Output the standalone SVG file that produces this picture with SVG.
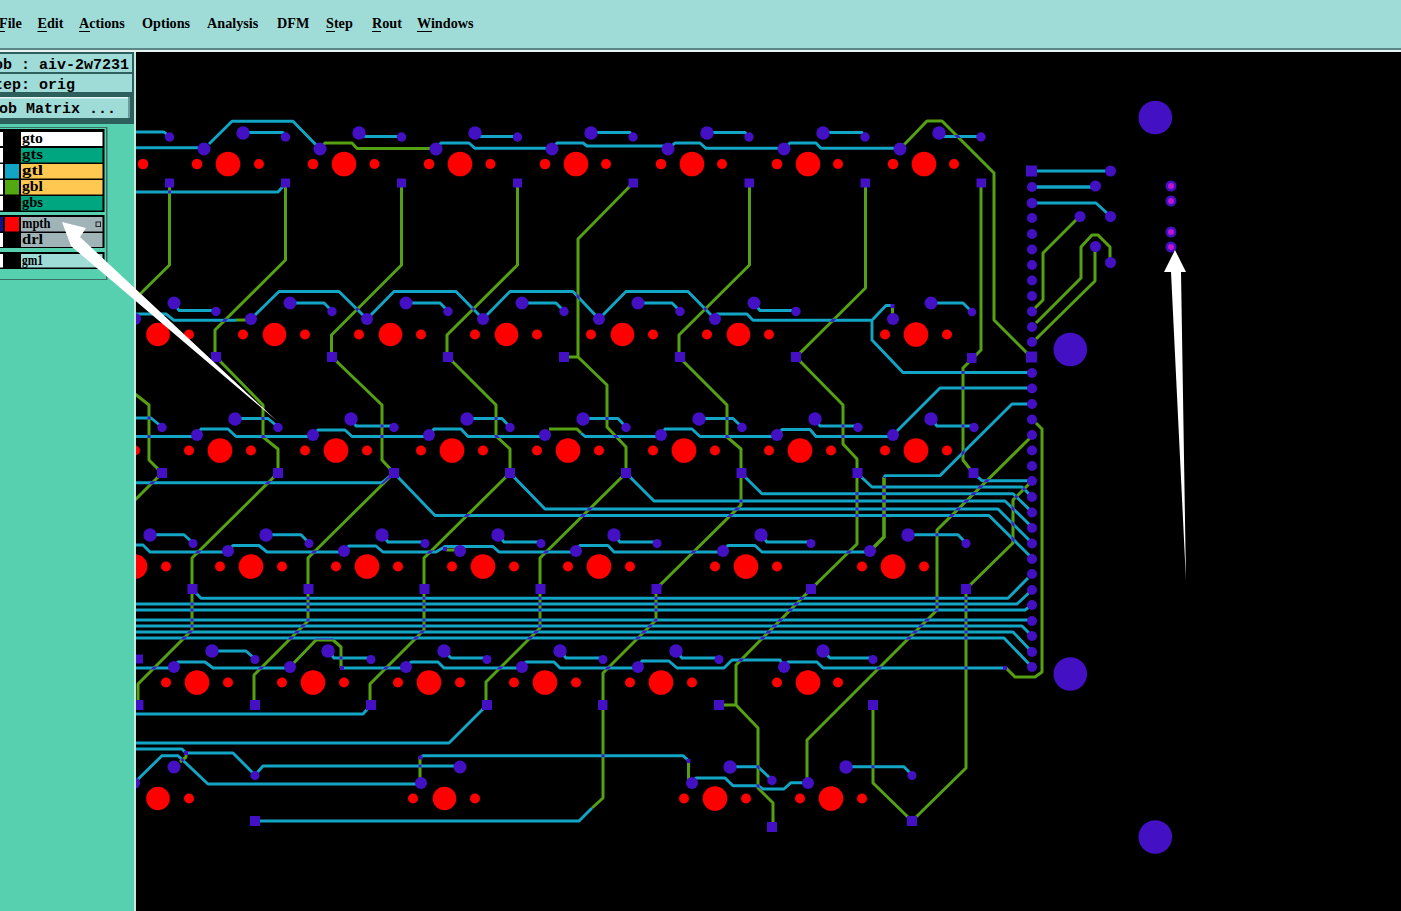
<svg xmlns="http://www.w3.org/2000/svg" width="1401" height="911" viewBox="0 0 1401 911">
<style>
.p{fill:#4410c4}
.r{fill:#ff0000}
.m{font-family:"Liberation Serif",serif;font-weight:bold;font-size:14.200px;fill:#000}
.c{font-family:"Liberation Mono",monospace;font-weight:bold;font-size:15px;fill:#000}
.l{font-family:"Liberation Serif",serif;font-weight:bold;font-size:14px;fill:#000}
.u{stroke:#000;stroke-width:1.2}
</style>
<defs>
<g id="blue" fill="none" stroke-width="2.900">
<path d="M130 132H164L170 137M130 147.700H204M209 144L232 121.300H293L320 149M243 132.500H283L286 137M130 192H278L286 183"/>
<path d="M436 149L441 143H469L475 148.300H552M552 149L557 143H583L587 146H668M668 149L675 143H700L706 148.300H784M784 149L790 143H816L821 148.300H900"/>
<path d="M359 135L366 136.500H401M475 135L481 136.500H517M591 132.500H630L633 137M707 132.500H745L749 137M823 132.500H862L865 137M939 136.500H981"/>
<path d="M1031 171H1110" stroke-width="3.200"/><path d="M1032 187H1095" stroke-width="3.600"/><path d="M1032 203H1096L1108 214"/>
<path d="M130 314H166L174 320.300H236"/>
<path d="M251 319L279 291.500H339L367 319M367 319L394 291.500H456L483 319M483 319L510 291.500H573L599 319M599 319L626 291.500H688L715 319"/>
<path d="M715 319L717 314H747L753 320.300H872L886 305.500H892M872 320V340L903 372.500H1032"/>
<path d="M174 303L179 310.500H216M290 303H324L332 311M406 303H440L448 311M522 303H556L564 311M638 303H672L680 311M754 303L760 310.500H796M931 303H963L972 312"/>
<path d="M130 418H151L162 427M130 436.500H197M197 435L201 429H228L236 436.500H313M313 435L318 430H345L352 436.500H429M429 435L434 429H461L468 436.500H545"/>
<path d="M235 418.500H268L278 427M351 419L356 426H394M467 418.500H502L510 427M583 418.500H618L626 427M699 418.500H733L742 427M815 419L820 426H858M931 419L937 426H974"/>
<path d="M581 433L585 436.500H661M661 435L665 429H692L700 436.500H777M777 435L782 429.500H810L816 436.500H893M893 435L940 388H1032"/>
<path d="M1032 404H1012L940 475.600H885L884 478"/>
<path d="M857 473L872 487H1022L1032 497M741 473L762 493.700H1013L1032 512M626 473L654 501H1005L1032 527M510 473L545 509H998L1032 543M394 473L435 515.500H989L1032 558M973 473L982 480.700H1032"/>
<path d="M130 482.700H382L394 473"/>
<path d="M192 589L201 598.300H1008L1028 578M130 604H1017L1032 590M130 610H1025L1032 605M130 620H1032M130 626H1022L1032 636M130 632H1013L1032 652M130 638H1004L1032 667"/>
<path d="M130 545H143L150 552H228M228 551L233 545.500H259L267 552H344M344 551L349 546H376L383 552H436L445 546.500H493L499 552H576M576 551L580 545.500H608L614 552H723M723 551L728 545.500H755L762 552H870"/>
<path d="M150 534.700H184L193 543M266 534.700H301L309 543M382 535L388 542H425M498 535L504 542H541M614 535L620 542H657M761 535L767 542H811M908 534.700H958L966 543"/>
<path d="M130 668H174M174 667L178 662H205L213 668H290M343 668H406M406 667L411 662H438L444 668H522M522 667L526 662H554L560 668H638M638 667L642 661H669L677 668H724L732 660H780L784 667M784 667L788 662H817L823 668H1005"/>
<path d="M212 651H246L255 659M328 651L334 658H371M444 651L451 658H487M560 651L566 658H603M676 651L682 658H719M823 651L830 658H873"/>
<path d="M130 714H363L371 705M130 743H449L487 705"/>
<path d="M130 749H182L186 753H233L255 775M255 775L263 766H460"/>
<path d="M130 787L162 755.700H178L208 784H421"/>
<path d="M420 758L423 755.700H683L689 761"/>
<path d="M692 783L696 778H725L733 785.700H758L763 789H784L791 782.700H808"/>
<path d="M730 766.700H758L772 780M846 766.700H904L912 775"/>
<path d="M255 821H579L592 808"/>
</g>
<g id="green" fill="none" stroke-width="3">
<path d="M169.500 183V265L130 304"/>
<path d="M285.500 183V260L215 330V357"/>
<path d="M320 149L325 143H352L357 148.500H436"/>
<path d="M401.500 183V265L331.500 335V357"/>
<path d="M517.500 183V265L447 335V357"/>
<path d="M633 183L578 239V357L607 385V427L626 447V473M564 357H578"/>
<path d="M749.500 183V265L679 335V357L727 405V437L741 449V505L656 589"/>
<path d="M865.500 183V288L796 357L843 405V444L857 459V544L811 589"/>
<path d="M900 149L927 121H942L994 173V320L1031 357"/>
<path d="M981 183V350L963 368V460L973 473"/>
<path d="M892.500 306V319"/>
<path d="M236 320H251"/>
<path d="M216 357L263 405V437L278 449V473L192 558V630L138 684V705"/>
<path d="M332 357L382 405V460L394 473L308 558V621L254 675V705"/>
<path d="M448 357L496 405V436L510 449V473L424 558V630L370 684V705"/>
<path d="M626 473L540 558V628L486 682V705"/>
<path d="M130 390L149 405V460L162 473L130 505"/>
<path d="M656 589V620L603 673V798L592 808"/>
<path d="M811 589L736 665V705M719 705H736L758 728V788L773 803V827"/>
<path d="M966 589L1013 543V500L1029 484"/>
<path d="M1030 438L937 530V610L807 740V783"/>
<path d="M966 589V768L912 821L873 783V705"/>
<path d="M884 477V537L870 551" stroke-width="3.600"/>
<path d="M1036 423L1042 429V672L1035 677H1015L1006 668"/>
<path d="M1080 216L1043 253V300L1032 311M1036 323L1081 278V247L1092 235H1098L1110 247V262M1036 339L1095 281V247"/>
<path d="M549 429H577L581 433M446 550H460"/>
<path d="M290 667L316 640H333L341 647V668"/>
<path d="M420 757V783M688.500 761V783M186 753V757L180 762"/>
</g>
<mask id="x" maskUnits="userSpaceOnUse" x="0" y="0" width="1401" height="911"><use href="#blue" stroke="#fff"/></mask>
<clipPath id="cl"><rect x="0" y="52" width="132" height="70"/></clipPath>
</defs>
<rect id="board" x="134" y="50" width="1267" height="861" fill="#000"/>
<g id="connectors" stroke-linejoin="round">
<use href="#green" stroke="#55a013"/>
<use href="#blue" stroke="#12a5c6"/>
<g mask="url(#x)"><use href="#green" stroke="#3f1fb4"/></g>
</g>
<g id="drills" class="r">
<circle cx="143" cy="164" r="5.300"/><circle cx="197" cy="164" r="5.300"/><circle cx="228" cy="164" r="12.300"/><circle cx="259" cy="164" r="5"/><circle cx="313" cy="164" r="5.300"/><circle cx="344" cy="164" r="12.300"/><circle cx="374.500" cy="164" r="5"/><circle cx="429" cy="164" r="5.300"/><circle cx="460" cy="164" r="12.300"/><circle cx="490.500" cy="164" r="5"/><circle cx="545" cy="164" r="5.300"/><circle cx="576" cy="164" r="12.300"/><circle cx="606" cy="164" r="5"/><circle cx="661" cy="164" r="5.300"/><circle cx="692" cy="164" r="12.300"/><circle cx="722" cy="164" r="5"/><circle cx="777" cy="164" r="5.300"/><circle cx="808" cy="164" r="12.300"/><circle cx="838" cy="164" r="5"/><circle cx="893" cy="164" r="5.300"/><circle cx="924" cy="164" r="12.300"/><circle cx="954" cy="164" r="5"/>
<circle cx="158" cy="334.500" r="11.800"/><circle cx="189" cy="334.500" r="5"/><circle cx="243" cy="334.500" r="5"/><circle cx="274.500" cy="334.500" r="11.800"/><circle cx="305" cy="334.500" r="5"/><circle cx="359" cy="334.500" r="5"/><circle cx="390.500" cy="334.500" r="11.800"/><circle cx="421" cy="334.500" r="5"/><circle cx="475" cy="334.500" r="5"/><circle cx="506.500" cy="334.500" r="11.800"/><circle cx="537" cy="334.500" r="5"/><circle cx="591" cy="334.500" r="5"/><circle cx="622.500" cy="334.500" r="11.800"/><circle cx="653" cy="334.500" r="5"/><circle cx="707" cy="334.500" r="5"/><circle cx="738.500" cy="334.500" r="11.800"/><circle cx="769" cy="334.500" r="5"/><circle cx="885" cy="334.500" r="5"/><circle cx="916" cy="334.500" r="12.300"/><circle cx="947" cy="334.500" r="5"/>
<circle cx="135" cy="450.500" r="5"/><circle cx="189" cy="450.500" r="5"/><circle cx="220" cy="450.500" r="12.300"/><circle cx="251" cy="450.500" r="5"/><circle cx="305" cy="450.500" r="5"/><circle cx="336" cy="450.500" r="12.300"/><circle cx="367" cy="450.500" r="5"/><circle cx="421" cy="450.500" r="5"/><circle cx="452" cy="450.500" r="12.300"/><circle cx="483" cy="450.500" r="5"/><circle cx="537" cy="450.500" r="5"/><circle cx="568" cy="450.500" r="12.300"/><circle cx="599" cy="450.500" r="5"/><circle cx="653" cy="450.500" r="5"/><circle cx="684" cy="450.500" r="12.300"/><circle cx="715" cy="450.500" r="5"/><circle cx="769" cy="450.500" r="5"/><circle cx="800" cy="450.500" r="12.300"/><circle cx="831" cy="450.500" r="5"/><circle cx="885" cy="450.500" r="5"/><circle cx="916" cy="450.500" r="12.300"/><circle cx="947" cy="450.500" r="5"/>
<circle cx="135" cy="566.500" r="12.300"/><circle cx="166" cy="566.500" r="5"/><circle cx="220" cy="566.500" r="5"/><circle cx="251" cy="566.500" r="12.300"/><circle cx="282" cy="566.500" r="5"/><circle cx="336" cy="566.500" r="5"/><circle cx="367" cy="566.500" r="12.300"/><circle cx="398" cy="566.500" r="5"/><circle cx="452" cy="566.500" r="5"/><circle cx="483" cy="566.500" r="12.300"/><circle cx="514" cy="566.500" r="5"/><circle cx="568" cy="566.500" r="5"/><circle cx="599" cy="566.500" r="12.300"/><circle cx="630" cy="566.500" r="5"/><circle cx="715" cy="566.500" r="5"/><circle cx="746" cy="566.500" r="12.300"/><circle cx="777" cy="566.500" r="5"/><circle cx="862" cy="566.500" r="5"/><circle cx="893" cy="566.500" r="12.300"/><circle cx="924" cy="566.500" r="5"/>
<circle cx="166" cy="682.500" r="5"/><circle cx="197" cy="682.500" r="12.300"/><circle cx="228" cy="682.500" r="5"/><circle cx="282" cy="682.500" r="5"/><circle cx="313" cy="682.500" r="12.300"/><circle cx="344" cy="682.500" r="5"/><circle cx="398" cy="682.500" r="5"/><circle cx="429" cy="682.500" r="12.300"/><circle cx="460" cy="682.500" r="5"/><circle cx="514" cy="682.500" r="5"/><circle cx="545" cy="682.500" r="12.300"/><circle cx="576" cy="682.500" r="5"/><circle cx="630" cy="682.500" r="5"/><circle cx="661" cy="682.500" r="12.300"/><circle cx="692" cy="682.500" r="5"/><circle cx="777" cy="682.500" r="5"/><circle cx="808" cy="682.500" r="12.300"/><circle cx="838" cy="682.500" r="5"/>
<circle cx="158" cy="798.500" r="11.800"/><circle cx="189" cy="798.500" r="5"/><circle cx="413" cy="798.500" r="5"/><circle cx="444.500" cy="798.500" r="11.800"/><circle cx="475" cy="798.500" r="5"/><circle cx="684" cy="798.500" r="5"/><circle cx="715" cy="798.500" r="12.300"/><circle cx="746" cy="798.500" r="5"/><circle cx="800" cy="798.500" r="5"/><circle cx="831" cy="798.500" r="12.300"/><circle cx="862" cy="798.500" r="5"/>
</g>
<g id="pads-row1" class="p">
<circle cx="204" cy="149" r="6.500"/><circle cx="320" cy="149" r="6.500"/><circle cx="436" cy="149" r="6.500"/><circle cx="552" cy="149" r="6.500"/><circle cx="668" cy="149" r="6.500"/><circle cx="784" cy="149" r="6.500"/><circle cx="900" cy="149" r="6.500"/>
<circle cx="243" cy="133" r="6.700"/><circle cx="359" cy="133" r="6.700"/><circle cx="475" cy="133" r="6.700"/><circle cx="591" cy="133" r="6.700"/><circle cx="707" cy="133" r="6.700"/><circle cx="823" cy="133" r="6.700"/><circle cx="939" cy="133" r="6.700"/>
<circle cx="169.500" cy="137" r="4.700"/><circle cx="285.500" cy="137" r="4.700"/><circle cx="401.500" cy="137" r="4.700"/><circle cx="517.500" cy="137" r="4.700"/><circle cx="633" cy="137" r="4.700"/><circle cx="749" cy="137" r="4.700"/><circle cx="865" cy="137" r="4.700"/><circle cx="981" cy="137" r="4.700"/>
<rect x="165" y="178.500" width="9" height="9"/><rect x="281" y="178.500" width="9" height="9"/><rect x="397" y="178.500" width="9" height="9"/><rect x="513" y="178.500" width="9" height="9"/><rect x="628.500" y="178.500" width="9.500" height="9"/><rect x="744.500" y="178.500" width="9.500" height="9"/><rect x="860.500" y="178.500" width="9.500" height="9"/><rect x="976.500" y="178.500" width="9.500" height="9"/>
</g>
<g id="pads-row2" class="p">
<circle cx="135" cy="319" r="6"/><circle cx="251" cy="319" r="6"/><circle cx="367" cy="319" r="6"/><circle cx="483" cy="319" r="6"/><circle cx="599" cy="319" r="6"/><circle cx="715" cy="319" r="6"/><circle cx="893" cy="319" r="6"/>
<circle cx="174" cy="303" r="6.500"/><circle cx="290" cy="303" r="6.500"/><circle cx="406" cy="303" r="6.500"/><circle cx="522" cy="303" r="6.500"/><circle cx="638" cy="303" r="6.500"/><circle cx="754" cy="303" r="6.500"/><circle cx="931" cy="303" r="6.500"/>
<circle cx="216" cy="311.500" r="4.700"/><circle cx="332" cy="311.500" r="4.700"/><circle cx="448" cy="311.500" r="4.700"/><circle cx="564" cy="311.500" r="4.700"/><circle cx="680" cy="311.500" r="4.700"/><circle cx="796" cy="311.500" r="4.700"/><circle cx="972" cy="312" r="4.300"/>
<rect x="211" y="352" width="10" height="10"/><rect x="327" y="352" width="10" height="10"/><rect x="443" y="352" width="10" height="10"/><rect x="559" y="352" width="10" height="10"/><rect x="675" y="352" width="10" height="10"/><rect x="791" y="352" width="10" height="10"/><rect x="967" y="353" width="9.500" height="10"/>
<rect x="890.500" y="304" width="4" height="4"/>
</g>
<g id="pads-row3" class="p">
<circle cx="197" cy="435" r="6"/><circle cx="313" cy="435" r="6"/><circle cx="429" cy="435" r="6"/><circle cx="545" cy="435" r="6"/><circle cx="661" cy="435" r="6"/><circle cx="777" cy="435" r="6"/><circle cx="893" cy="435" r="6"/>
<circle cx="235" cy="419" r="6.700"/><circle cx="351" cy="419" r="6.700"/><circle cx="467" cy="419" r="6.700"/><circle cx="583" cy="419" r="6.700"/><circle cx="699" cy="419" r="6.700"/><circle cx="815" cy="419" r="6.700"/><circle cx="931" cy="419" r="6.700"/>
<circle cx="162" cy="427.500" r="4.700"/><circle cx="278" cy="427.500" r="4.700"/><circle cx="394" cy="427.500" r="4.700"/><circle cx="510" cy="427.500" r="4.700"/><circle cx="626" cy="427.500" r="4.700"/><circle cx="742" cy="427.500" r="4.700"/><circle cx="858" cy="427.500" r="4.700"/><circle cx="974" cy="427.500" r="4.700"/>
<rect x="157" y="468" width="10" height="10"/><rect x="273" y="468" width="10" height="10"/><rect x="389" y="468" width="10" height="10"/><rect x="505" y="468" width="10" height="10"/><rect x="621" y="468" width="10" height="10"/><rect x="736.500" y="468" width="10" height="10"/><rect x="852.500" y="468" width="10" height="10"/><rect x="968.500" y="468" width="10" height="10"/>
</g>
<g id="pads-row4" class="p">
<circle cx="228" cy="551" r="6"/><circle cx="344" cy="551" r="6"/><circle cx="460" cy="551" r="6"/><circle cx="576" cy="551" r="6"/><circle cx="723" cy="551" r="6"/><circle cx="870" cy="551" r="6"/>
<circle cx="150" cy="535" r="6.700"/><circle cx="266" cy="535" r="6.700"/><circle cx="382" cy="535" r="6.700"/><circle cx="498" cy="535" r="6.700"/><circle cx="614" cy="535" r="6.700"/><circle cx="761" cy="535" r="6.700"/><circle cx="908" cy="535" r="6.700"/>
<circle cx="193" cy="543.500" r="4.500"/><circle cx="309" cy="543.500" r="4.500"/><circle cx="425" cy="543.500" r="4.500"/><circle cx="541" cy="543.500" r="4.500"/><circle cx="657" cy="543.500" r="4.500"/><circle cx="811" cy="543.500" r="4.500"/><circle cx="966" cy="543.500" r="4.500"/>
<rect x="187.500" y="584" width="10" height="10"/><rect x="303.500" y="584" width="10" height="10"/><rect x="419.500" y="584" width="10" height="10"/><rect x="535.500" y="584" width="10" height="10"/><rect x="651.500" y="584" width="10" height="10"/><rect x="806" y="584" width="10" height="10"/><rect x="961" y="584" width="10" height="10"/>
<rect x="443" y="547" width="4" height="4"/>
</g>
<g id="pads-row5" class="p">
<circle cx="174" cy="667" r="6"/><circle cx="290" cy="667" r="6"/><circle cx="406" cy="667" r="6"/><circle cx="522" cy="667" r="6"/><circle cx="638" cy="667" r="6"/><circle cx="784" cy="667" r="6"/>
<circle cx="212" cy="651" r="6.700"/><circle cx="328" cy="651" r="6.700"/><circle cx="444" cy="651" r="6.700"/><circle cx="560" cy="651" r="6.700"/><circle cx="676" cy="651" r="6.700"/><circle cx="823" cy="651" r="6.700"/>
<circle cx="255" cy="659.500" r="4.500"/><circle cx="371" cy="659.500" r="4.500"/><circle cx="487" cy="659.500" r="4.500"/><circle cx="603" cy="659.500" r="4.500"/><circle cx="719" cy="659.500" r="4.500"/><circle cx="873" cy="659.500" r="4.500"/>
<rect x="134" y="654.500" width="9" height="9"/><rect x="134" y="700" width="9.500" height="10"/><rect x="250" y="700" width="10" height="10"/><rect x="366" y="700" width="10" height="10"/><rect x="482" y="700" width="10" height="10"/><rect x="598" y="700" width="9.500" height="10"/><rect x="714" y="700" width="10" height="10"/><rect x="868" y="700" width="10" height="10"/>
<rect x="340" y="666" width="4" height="4"/><rect x="1003" y="666" width="4" height="4"/>
</g>
<g id="pads-row6" class="p">
<circle cx="134" cy="783" r="6"/><circle cx="421" cy="783" r="6"/><circle cx="692" cy="783" r="6"/><circle cx="808" cy="783" r="6"/>
<circle cx="174" cy="767" r="6.500"/><circle cx="460" cy="767" r="6.500"/><circle cx="730" cy="767" r="6.700"/><circle cx="846" cy="767" r="6.700"/>
<circle cx="255" cy="775.500" r="4.500"/><circle cx="772" cy="780.500" r="4.700"/><circle cx="912" cy="775.500" r="4.500"/>
<rect x="250" y="816" width="10" height="10"/><rect x="767" y="822" width="10" height="10"/><rect x="907" y="816" width="10" height="10"/>
<rect x="418.500" y="755.500" width="4" height="4"/><rect x="686.500" y="759" width="4" height="4"/><rect x="184" y="751" width="4" height="4"/>
</g>
<g id="edge-connector" class="p">
<rect x="1026" y="165.500" width="11" height="11"/><circle cx="1032" cy="187" r="5"/><circle cx="1032" cy="203" r="5.300"/><circle cx="1032" cy="218" r="5"/><circle cx="1032" cy="234" r="5"/><circle cx="1032" cy="249.500" r="5"/><circle cx="1032" cy="265" r="5"/><circle cx="1032" cy="280.500" r="5"/><circle cx="1032" cy="296" r="5"/><circle cx="1032" cy="311.500" r="5"/><circle cx="1032" cy="327" r="5"/><circle cx="1032" cy="342" r="5"/><rect x="1026" y="351.500" width="11" height="11"/><circle cx="1032" cy="373" r="5"/><circle cx="1032" cy="388.500" r="5"/><circle cx="1032" cy="404" r="5"/><circle cx="1032" cy="419.500" r="5"/><circle cx="1032" cy="435" r="5"/><circle cx="1032" cy="450.500" r="5"/><circle cx="1032" cy="466" r="5"/><circle cx="1032" cy="481" r="5"/><circle cx="1032" cy="497" r="5"/><circle cx="1032" cy="512.500" r="5"/><circle cx="1032" cy="528" r="5"/><circle cx="1032" cy="543.500" r="5"/><circle cx="1032" cy="559" r="5"/><circle cx="1032" cy="574" r="5"/><circle cx="1032" cy="590" r="5"/><circle cx="1032" cy="605" r="5"/><circle cx="1032" cy="621" r="5"/><circle cx="1032" cy="636" r="5"/><circle cx="1032" cy="652" r="5"/><circle cx="1032" cy="667" r="5"/>
<circle cx="1110.500" cy="171" r="5.500"/><circle cx="1095.500" cy="186" r="5.500"/><circle cx="1110.500" cy="216.500" r="5.500"/><circle cx="1080" cy="216.500" r="5.500"/><circle cx="1095.500" cy="246.500" r="5.500"/><circle cx="1110.500" cy="262.500" r="5.500"/>
</g>
<g id="mounts" class="p">
<circle cx="1155.300" cy="117.500" r="16.800"/><circle cx="1070.300" cy="349.500" r="16.800"/><circle cx="1070.300" cy="674" r="16.800"/><circle cx="1155.300" cy="837" r="16.800"/>
<circle cx="1171" cy="186" r="5.500"/><circle cx="1171" cy="201" r="5.500"/><circle cx="1171" cy="232" r="5.500"/><circle cx="1171" cy="247" r="5.500"/>
<g fill="#c015d0"><circle cx="1171" cy="186" r="3"/><circle cx="1171" cy="201" r="3"/><circle cx="1171" cy="232" r="3"/><circle cx="1171" cy="247" r="3"/></g>
</g>
<g id="ui">
<rect x="0" y="0" width="1401" height="48" fill="#9fdcd8"/>
<rect x="0" y="48" width="1401" height="2" fill="#5b8587"/>
<rect x="0" y="50" width="1401" height="2" fill="#e6f4f2"/>
<rect x="0" y="52" width="134" height="859" fill="#56d0ae"/>
<rect x="134" y="52" width="2" height="859" fill="#c0ece0"/>
<rect x="0" y="52" width="134" height="72" fill="#2d5f5c"/>
<rect x="0" y="54" width="132" height="18" fill="#9fdcd8"/>
<rect x="0" y="74" width="132" height="18" fill="#9fdcd8"/>
<rect x="0" y="97" width="130" height="21" fill="#9fdcd8"/>
<rect x="0" y="97" width="130" height="1.500" fill="#e6f4f2"/>
<rect x="128" y="97" width="2" height="21" fill="#6f9c9a"/>
<g clip-path="url(#cl)">
<text class="c" x="-6" y="69">ob : aiv-2w7231</text>
<text class="c" x="-6" y="89">tep: orig</text>
<text class="c" x="-1" y="113">ob Matrix ...</text>
</g>
<rect x="0" y="127" width="107.500" height="153" fill="#3e6f66"/>
<rect x="0" y="128" width="106" height="151" fill="#56d0ae"/>
<rect x="0" y="129" width="104.500" height="83" fill="#000"/>
<rect x="21" y="132" width="81.500" height="14" fill="#fff"/>
<rect x="21" y="148" width="81.500" height="14.500" fill="#00a67f"/>
<rect x="21" y="164" width="81.500" height="14.500" fill="#ffc850"/>
<rect x="21" y="180" width="81.500" height="14.500" fill="#ffc850"/>
<rect x="21" y="196" width="81.500" height="14.500" fill="#00a67f"/>
<rect x="5" y="164" width="14" height="14.500" fill="#12a5c6"/>
<rect x="5" y="180" width="14" height="14.500" fill="#52a810"/>
<rect x="0" y="215" width="104.500" height="33" fill="#000"/>
<rect x="21" y="217" width="81.500" height="14.500" fill="#a0b4b8"/>
<rect x="21" y="233" width="81.500" height="14" fill="#a0b4b8"/>
<rect x="5" y="217" width="14" height="14.500" fill="#ff0000"/>
<rect x="0" y="217" width="3" height="14.500" fill="#10108a"/>
<rect x="0" y="252" width="104.500" height="17" fill="#000"/>
<rect x="21" y="254" width="81.500" height="13.500" fill="#9fdcd8"/>
<rect x="0" y="132" width="3" height="14" fill="#fff"/><rect x="0" y="148" width="3" height="14.500" fill="#fff"/><rect x="0" y="164" width="3" height="14.500" fill="#fff"/><rect x="0" y="180" width="3" height="14.500" fill="#fff"/><rect x="0" y="196" width="3" height="14.500" fill="#fff"/><rect x="0" y="233" width="3" height="14" fill="#fff"/><rect x="0" y="254" width="3" height="13.500" fill="#fff"/>
<rect x="96" y="222" width="4.500" height="4.500" fill="none" stroke="#222" stroke-width="1"/>
<text class="l" x="22" y="143" textLength="21" lengthAdjust="spacingAndGlyphs">gto</text>
<text class="l" x="22" y="159" textLength="21" lengthAdjust="spacingAndGlyphs">gts</text>
<text class="l" x="22" y="175" textLength="21" lengthAdjust="spacingAndGlyphs">gtl</text>
<text class="l" x="22" y="191" textLength="21" lengthAdjust="spacingAndGlyphs">gbl</text>
<text class="l" x="22" y="207" textLength="21" lengthAdjust="spacingAndGlyphs">gbs</text>
<text class="l" x="22" y="228" textLength="28.500" lengthAdjust="spacingAndGlyphs">mpth</text>
<text class="l" x="22" y="244" textLength="21" lengthAdjust="spacingAndGlyphs">drl</text>
<text class="l" x="22" y="265" textLength="21" lengthAdjust="spacingAndGlyphs">gm1</text>
<text class="m" x="-1" y="28">File</text>
<text class="m" x="37.500" y="28">Edit</text>
<text class="m" x="79" y="28">Actions</text>
<text class="m" x="142" y="28">Options</text>
<text class="m" x="207" y="28">Analysis</text>
<text class="m" x="277" y="28">DFM</text>
<text class="m" x="326" y="28">Step</text>
<text class="m" x="372" y="28">Rout</text>
<text class="m" x="417" y="28">Windows</text>
<path class="u" d="M0 31.500H5M37.500 31.500H47M79 31.500H90M326 31.500H335M372 31.500H381M417 31.500H432"/>
</g>
<g id="arrows" fill="#fff">
<polygon points="62,222 86,228 80,237 277,421 71,246"/>
<polygon points="1175,250 1186,272 1181,272 1186,581 1171,272 1164,272"/>
</g>
</svg>
